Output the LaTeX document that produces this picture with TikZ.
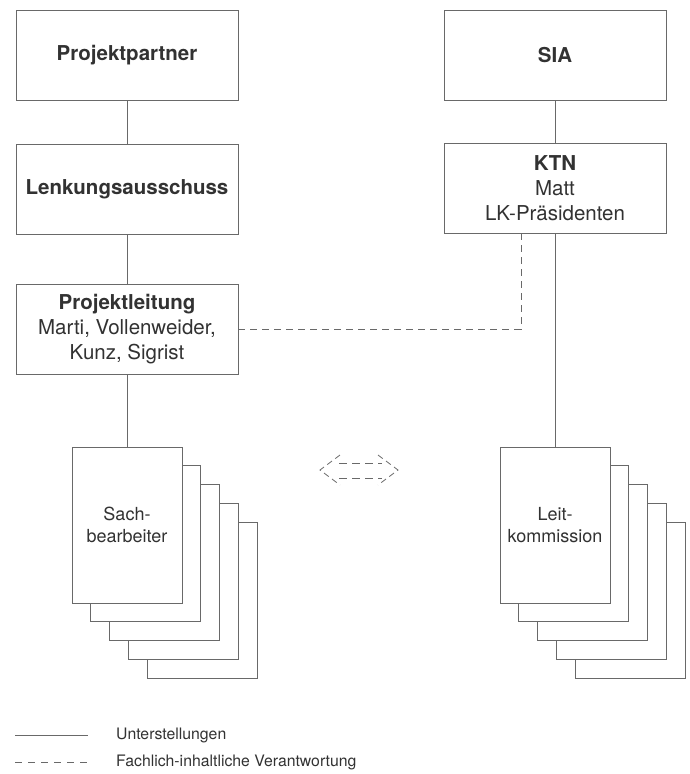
\documentclass[tikz,border=0pt]{standalone}
\usepackage{fontspec}
\setmainfont{TeX Gyre Heros}
\usepackage{tikz}
\usetikzlibrary{positioning}

\definecolor{strich}{RGB}{105,105,105}
\definecolor{schrift}{RGB}{50,50,50}

\tikzset{
  kasten/.style={draw=strich, fill=white, line width=0.8pt, minimum width=222pt, minimum height=90pt,
    inner sep=0pt, align=center, text=schrift, font=\fontsize{20.5}{25}\selectfont},
  blatt/.style={draw=strich, fill=white, line width=0.8pt},
  blattkopf/.style={blatt, minimum width=110pt, minimum height=156pt, inner sep=0pt,
    align=center, text=schrift, font=\fontsize{18}{22}\selectfont},
  linie/.style={draw=strich, line width=0.8pt},
  gestrichelt/.style={linie, dash pattern=on 7pt off 5pt},
  legende/.style={anchor=west, inner sep=0pt, text=schrift, font=\fontsize{15.8}{19}\selectfont}
}

\begin{document}
\begin{tikzpicture}[x=1pt,y=1pt,yscale=-1,xscale=1]
\useasboundingbox (0,0) rectangle (690,774);

% linke Spalte
\node [kasten] (partner) at (127,55.5) {\textbf{Projektpartner}};
\node [kasten] (lenkung) at (127,189) {\textbf{Lenkungsausschuss}};
\node [kasten] (leitung) at (127,329) {\textbf{Projektleitung}\\Marti, Vollenweider,\\Kunz, Sigrist};

% rechte Spalte
\node [kasten] (sia) at (555,55.5) {\textbf{SIA}};
\node [kasten] (ktn) at (555,188) {\textbf{KTN}\\Matt\\LK-Präsidenten};

% Blattstapel
\foreach \i in {4,3,2,1} {
  \draw [blatt] ({72+18.8*\i},{447+18.8*\i}) rectangle ++(110,156);
  \draw [blatt] ({500+18.8*\i},{447+18.8*\i}) rectangle ++(110,156);
}
\node [blattkopf] (sach) at (127,525) {Sach-\\bearbeiter};
\node [blattkopf] (kommission) at (555,525) {Leit-\\kommission};

% Unterstellungen
\draw [linie] (partner) -- (lenkung);
\draw [linie] (lenkung) -- (leitung);
\draw [linie] (leitung) -- (sach);
\draw [linie] (sia) -- (ktn);
\draw [linie] (ktn) -- (kommission);

% fachliche Verantwortung
\coordinate (knick) at (521,329);
\draw [gestrichelt] (leitung.east) -- (knick) -- (knick |- ktn.south);

% Doppelpfeil
\draw [gestrichelt, dash pattern=on 6pt off 4pt] (340,455) -- (320,470) -- (340,485);
\draw [gestrichelt, dash pattern=on 6pt off 4pt] (378,455) -- (398,470) -- (378,485);
\draw [gestrichelt, dash pattern=on 8pt off 5pt] (339,463) -- (382,463);
\draw [gestrichelt, dash pattern=on 8pt off 5pt] (339,478) -- (382,478);

% Legende
\node [legende] (unter) at (116,735) {Unterstellungen};
\node [legende] (fach) at (116,762) {Fachlich-inhaltliche Verantwortung};
\draw [linie] (15,735) -- (88,735);
\draw [gestrichelt, dash pattern=on 7pt off 6pt] (15,762) -- (88,762);

\end{tikzpicture}
\end{document}
